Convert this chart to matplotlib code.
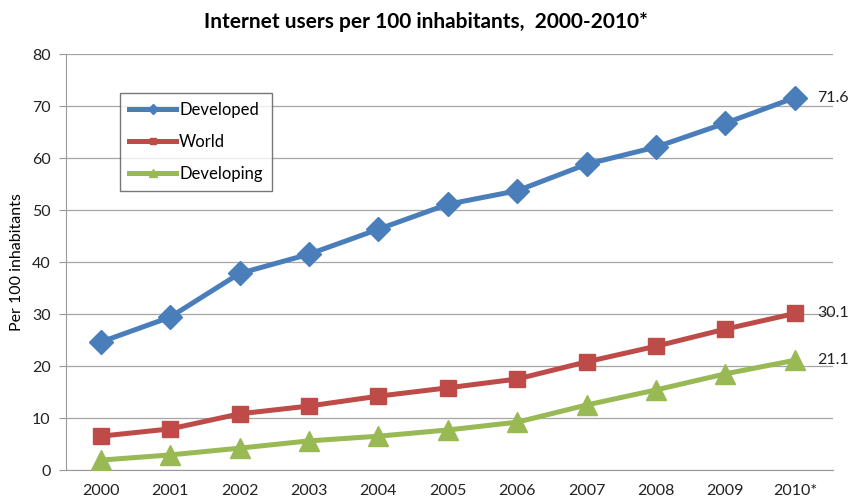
import matplotlib
matplotlib.use("Agg")
import matplotlib.pyplot as plt

years = ["2000", "2001", "2002", "2003", "2004", "2005", "2006", "2007", "2008", "2009", "2010*"]
developed = [24.6, 29.4, 37.8, 41.5, 46.3, 51.1, 53.7, 58.8, 62.1, 66.7, 71.6]
world = [6.5, 7.9, 10.8, 12.3, 14.2, 15.8, 17.5, 20.8, 23.8, 27.1, 30.1]
developing = [1.9, 2.9, 4.2, 5.6, 6.5, 7.7, 9.2, 12.5, 15.4, 18.5, 21.1]

plt.rcParams['font.family'] = ['Lato', 'DejaVu Sans']

fig = plt.figure(figsize=(8.52, 5.0), dpi=100)
ax = fig.add_axes([66/852, 1-470/500, (833-66)/852, (470-54)/500])

x = list(range(len(years)))
c_dev = "#4A7EBB"
c_world = "#BE4B48"
c_devg = "#98B954"

ax.plot(x, developed, color=c_dev, lw=3.6, marker="D", ms=12, label="Developed", zorder=3)
ax.plot(x, world, color=c_world, lw=3.6, marker="s", ms=12, label="World", zorder=3)
ax.plot(x, developing, color=c_devg, lw=3.6, marker="^", ms=14, label="Developing", zorder=3)

for series in (developed, world, developing):
    ax.annotate(f"{series[-1]:.1f}", (x[-1], series[-1]), xytext=(16, 0),
                textcoords="offset points", va="center", ha="left", fontsize=11.5, color="#222222")

ax.set_xlim(-0.5, 10.55)
ax.set_ylim(0, 80)
ax.set_yticks(range(0, 81, 10))
ax.set_xticks(x)
ax.set_xticklabels(years)
ax.tick_params(axis="both", labelsize=11.5, colors="#222222")
ax.tick_params(axis="y", length=5, color="#999999", pad=6)
ax.tick_params(axis="x", length=0, pad=10)
ax.grid(axis="y", color="#a6a6a6", lw=0.9)
ax.set_axisbelow(True)
for s in ("top", "right"):
    ax.spines[s].set_visible(False)
ax.spines["left"].set_color("#999999")
ax.spines["bottom"].set_color("#999999")

ax.set_ylabel("Per 100 inhabitants", fontsize=11.5, labelpad=6)
fig.suptitle("Internet users per 100 inhabitants,  2000-2010*", fontsize=15, fontweight="bold", y=0.975)

leg = ax.legend(loc="upper left", bbox_to_anchor=((120-66)/767, (470-93)/416), frameon=True,
                fancybox=False, edgecolor="#555555", fontsize=12, handlelength=2.8,
                borderpad=0.55, labelspacing=0.95, handletextpad=0.2, markerscale=0.4,
                borderaxespad=0)
leg.get_frame().set_linewidth(1.0)

fig.savefig("out.png", dpi=100)
